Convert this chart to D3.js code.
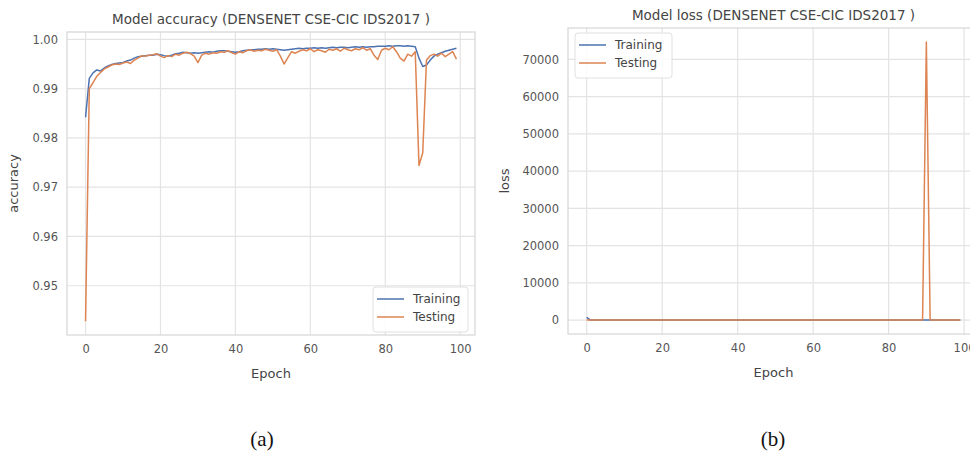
<!DOCTYPE html>
<html>
<head>
<meta charset="utf-8">
<script src="https://cdn.jsdelivr.net/npm/d3@7"></script>
<style>
  body { margin: 0; background: #fff; }
  svg { display: block; font-family: "DejaVu Sans", sans-serif; }
</style>
</head>
<body>
<div id="my_dataviz"></div>
<script>
// epochs 0..99
const epochs = d3.range(0, 100);

// accuracy values
const trainAcc = [
  0.9842, 0.9921, 0.9932, 0.9938, 0.9936, 0.9942, 0.9946, 0.9949, 0.9951, 0.9952,
  0.9953, 0.9956, 0.9958, 0.9962, 0.9965, 0.9966, 0.9967, 0.9968, 0.9968, 0.9970,
  0.9969, 0.9967, 0.9966, 0.9968, 0.9971, 0.9972, 0.9974, 0.9973, 0.9972, 0.9973,
  0.9972, 0.9973, 0.9974, 0.9975, 0.9974, 0.9976, 0.9977, 0.9977, 0.9976, 0.9975,
  0.9974, 0.9975, 0.9977, 0.9978, 0.9979, 0.9979, 0.9980, 0.9980, 0.9981, 0.9980,
  0.9981, 0.9980, 0.9979, 0.9978, 0.9979, 0.9980, 0.9981, 0.9982, 0.9981, 0.9982,
  0.9982, 0.9983, 0.9982, 0.9983, 0.9982, 0.9983, 0.9984, 0.9983, 0.9984, 0.9984,
  0.9983, 0.9984, 0.9985, 0.9984, 0.9985, 0.9984, 0.9985, 0.9985, 0.9986, 0.9986,
  0.9986, 0.9987, 0.9986, 0.9987, 0.9987, 0.9986, 0.9987, 0.9986, 0.9985, 0.9962,
  0.9945, 0.9948, 0.9958, 0.9966, 0.9970, 0.9973, 0.9976, 0.9978, 0.9980, 0.9982
];
const testAcc = [
  0.9428, 0.9900, 0.9912, 0.9925, 0.9933, 0.9940, 0.9944, 0.9948, 0.9950, 0.9949,
  0.9952, 0.9954, 0.9951, 0.9958, 0.9962, 0.9967, 0.9966, 0.9968, 0.9969, 0.9971,
  0.9966, 0.9963, 0.9967, 0.9965, 0.9970, 0.9968, 0.9972, 0.9974, 0.9971, 0.9966,
  0.9953, 0.9968, 0.9972, 0.9970, 0.9973, 0.9972, 0.9975, 0.9974, 0.9977, 0.9973,
  0.9970, 0.9975, 0.9973, 0.9977, 0.9979, 0.9976, 0.9978, 0.9977, 0.9980, 0.9978,
  0.9976, 0.9979, 0.9966, 0.9950, 0.9963, 0.9975, 0.9972, 0.9976, 0.9979, 0.9977,
  0.9981, 0.9975, 0.9979, 0.9977, 0.9974, 0.9980, 0.9978, 0.9981, 0.9976, 0.9982,
  0.9979, 0.9977, 0.9981, 0.9979, 0.9983, 0.9978, 0.9981, 0.9968, 0.9959, 0.9978,
  0.9982, 0.9979, 0.9985, 0.9975, 0.9962, 0.9956, 0.9970, 0.9966, 0.9975, 0.9744,
  0.9770, 0.9958, 0.9967, 0.9970, 0.9966, 0.9972, 0.9965, 0.9970, 0.9975, 0.9960
];

// loss values
const trainLoss = [
  700, 0.031, 0.024, 0.021, 0.019, 0.017, 0.016, 0.015, 0.014, 0.013,
  0.013, 0.012, 0.012, 0.011, 0.011, 0.010, 0.010, 0.010, 0.009, 0.009,
  0.009, 0.009, 0.009, 0.008, 0.008, 0.008, 0.008, 0.008, 0.008, 0.008,
  0.008, 0.007, 0.007, 0.007, 0.007, 0.007, 0.007, 0.007, 0.007, 0.007,
  0.007, 0.007, 0.007, 0.006, 0.006, 0.006, 0.006, 0.006, 0.006, 0.006,
  0.006, 0.006, 0.006, 0.006, 0.006, 0.006, 0.006, 0.006, 0.005, 0.005,
  0.005, 0.005, 0.005, 0.005, 0.005, 0.005, 0.005, 0.005, 0.005, 0.005,
  0.005, 0.005, 0.005, 0.005, 0.005, 0.005, 0.005, 0.005, 0.005, 0.004,
  0.004, 0.004, 0.004, 0.004, 0.004, 0.004, 0.004, 0.004, 0.005, 0.012,
  0.018, 0.016, 0.012, 0.010, 0.009, 0.008, 0.008, 0.007, 0.007, 0.006
];
const testLoss = [
  0.21, 0.030, 0.026, 0.024, 0.022, 0.020, 0.019, 0.018, 0.018, 0.017,
  0.016, 0.016, 0.017, 0.015, 0.014, 0.013, 0.013, 0.013, 0.012, 0.012,
  0.013, 0.014, 0.012, 0.013, 0.012, 0.012, 0.011, 0.011, 0.012, 0.013,
  0.018, 0.012, 0.011, 0.012, 0.011, 0.011, 0.010, 0.011, 0.010, 0.011,
  0.012, 0.010, 0.011, 0.010, 0.009, 0.010, 0.010, 0.010, 0.009, 0.010,
  0.010, 0.009, 0.013, 0.019, 0.014, 0.010, 0.011, 0.010, 0.009, 0.010,
  0.009, 0.010, 0.009, 0.010, 0.011, 0.009, 0.009, 0.009, 0.010, 0.008,
  0.009, 0.010, 0.009, 0.009, 0.008, 0.009, 0.009, 0.013, 0.016, 0.009,
  0.008, 0.009, 0.008, 0.010, 0.015, 0.017, 0.011, 0.013, 0.010, 0.011,
  74700, 0.016, 0.013, 0.012, 0.013, 0.011, 0.013, 0.012, 0.010, 0.014
];

const xTicks = [0, 20, 40, 60, 80, 100];
const accTicks = [0.95, 0.96, 0.97, 0.98, 0.99, 1.00];
const lossTicks = [0, 10000, 20000, 30000, 40000, 50000, 60000, 70000];
const seriesNames = ["Training", "Testing"];
const colors = ["#4c72b0", "#dd8452"];

const svg = d3.select("#my_dataviz")
  .append("svg")
  .attr("width", 970)
  .attr("height", 457);

function draw_panel(opt) {
  const g = svg.append("g");
  const x = d3.scaleLinear().domain([-4.95, 103.95]).range([opt.left, opt.right]);
  const y = d3.scaleLinear().domain(opt.yDomain).range([opt.bottom, opt.top]);

  // grid
  g.selectAll(".gx").data(xTicks).join("line")
    .attr("x1", d => x(d)).attr("x2", d => x(d))
    .attr("y1", opt.top).attr("y2", opt.bottom)
    .attr("stroke", "#e3e3e3").attr("stroke-width", 1.2);
  g.selectAll(".gy").data(opt.yTicks).join("line")
    .attr("x1", opt.left).attr("x2", opt.right)
    .attr("y1", d => y(d)).attr("y2", d => y(d))
    .attr("stroke", "#e3e3e3").attr("stroke-width", 1.2);

  // frame
  g.append("rect")
    .attr("x", opt.left).attr("y", opt.top)
    .attr("width", opt.right - opt.left).attr("height", opt.bottom - opt.top)
    .attr("fill", "none").attr("stroke", "#d6d6d6").attr("stroke-width", 1.2);

  // axes (labels only, seaborn whitegrid style)
  const xa = g.append("g")
    .attr("transform", `translate(0, ${opt.bottom + 7})`)
    .call(d3.axisBottom(x).tickValues(xTicks).tickSize(0).tickFormat(d3.format("d")));
  const ya = g.append("g")
    .attr("transform", `translate(${opt.left - 6}, 0)`)
    .call(d3.axisLeft(y).tickValues(opt.yTicks).tickSize(0).tickFormat(opt.yFormat));
  [xa, ya].forEach(a => {
    a.select(".domain").remove();
    a.selectAll("text")
      .style("font-family", "'DejaVu Sans', sans-serif")
      .style("font-size", "11.5px")
      .attr("fill", "#555");
  });

  // lines
  const line = d3.line().x((d, i) => x(epochs[i])).y(d => y(d));
  opt.series.forEach((s, k) => {
    g.append("path")
      .datum(s)
      .attr("d", line)
      .attr("fill", "none")
      .attr("stroke", colors[k])
      .attr("stroke-width", 1.5)
      .attr("stroke-linejoin", "round");
  });

  // title and axis labels
  const mid = (opt.left + opt.right) / 2;
  g.append("text")
    .attr("x", mid).attr("y", opt.top - 8)
    .attr("text-anchor", "middle")
    .style("font-size", "13.5px").attr("fill", "#444")
    .text(opt.title);
  g.append("text")
    .attr("x", mid).attr("y", opt.bottom + 43)
    .attr("text-anchor", "middle")
    .style("font-size", "13px").attr("fill", "#444")
    .text("Epoch");
  g.append("text")
    .attr("transform", `translate(${opt.yLabelX}, ${(opt.top + opt.bottom) / 2}) rotate(-90)`)
    .attr("text-anchor", "middle")
    .style("font-size", "13px").attr("fill", "#444")
    .text(opt.yLabel);

  // legend
  const lg = g.append("g").attr("transform", `translate(${opt.legend[0]}, ${opt.legend[1]})`);
  lg.append("rect")
    .attr("width", opt.legendW).attr("height", 45)
    .attr("rx", 3)
    .attr("fill", "#fff").attr("fill-opacity", 0.85)
    .attr("stroke", "#e0e0e0");
  seriesNames.forEach((n, k) => {
    lg.append("line")
      .attr("x1", 4).attr("x2", 31)
      .attr("y1", 12 + k * 18).attr("y2", 12 + k * 18)
      .attr("stroke", colors[k]).attr("stroke-width", 1.5);
    lg.append("text")
      .attr("x", 40).attr("y", 16 + k * 18)
      .style("font-size", "12px").attr("fill", "#444")
      .text(n);
  });

  // caption
  svg.append("text")
    .attr("x", opt.captionX).attr("y", 446)
    .attr("text-anchor", "middle")
    .style("font-family", "'Liberation Serif', serif")
    .style("font-size", "21px").attr("fill", "#111")
    .text(opt.caption);
}

draw_panel({
  left: 67, right: 475, top: 32, bottom: 335,
  yDomain: [0.9400, 1.0015], yTicks: accTicks, yFormat: d3.format(".2f"),
  series: [trainAcc, testAcc],
  title: "Model accuracy (DENSENET CSE-CIC IDS2017 )",
  yLabel: "accuracy", yLabelX: 18,
  legend: [373, 287], legendW: 95,
  caption: "(a)", captionX: 262
});

draw_panel({
  left: 568, right: 979, top: 28, bottom: 334,
  yDomain: [-3735, 78435], yTicks: lossTicks, yFormat: d3.format("d"),
  series: [trainLoss, testLoss],
  title: "Model loss (DENSENET CSE-CIC IDS2017 )",
  yLabel: "loss", yLabelX: 509,
  legend: [575, 33], legendW: 97,
  caption: "(b)", captionX: 773
});
</script>
</body>
</html>
